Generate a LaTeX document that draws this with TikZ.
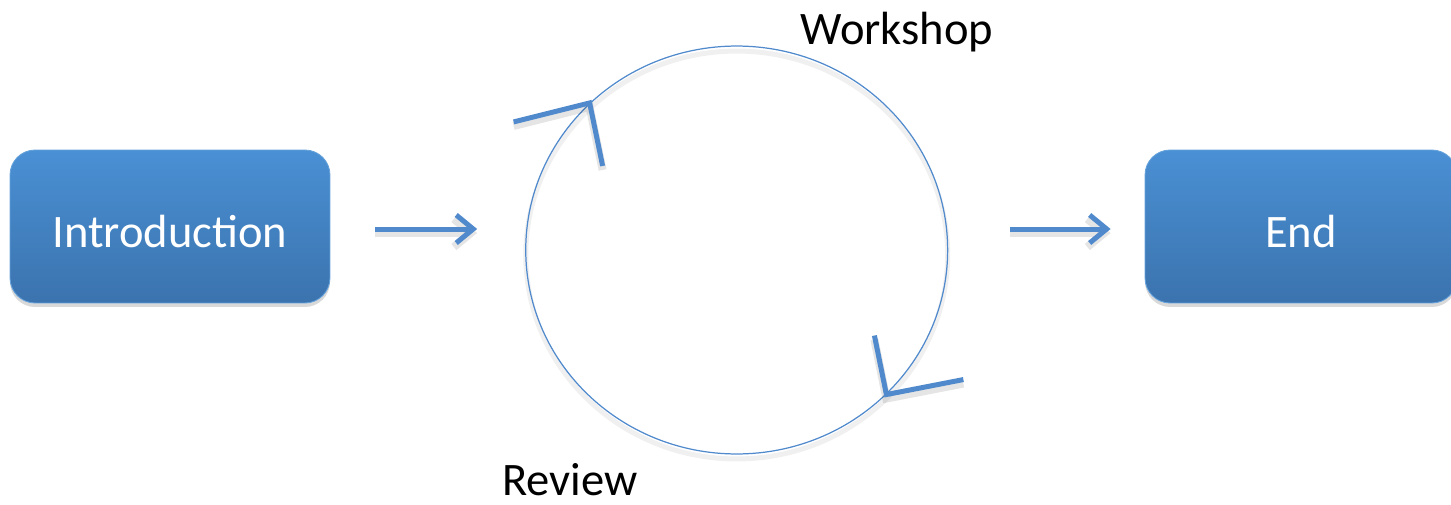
\documentclass[tikz,border=0pt]{standalone}
\usepackage{fontspec}
\setmainfont{Carlito}
\usetikzlibrary{shapes.geometric, arrows.meta, calc, shadows}
\definecolor{boxtop}{RGB}{74,144,212}
\definecolor{boxbottom}{RGB}{59,115,174}
\definecolor{cycleline}{RGB}{80,138,204}
\tikzstyle{softshadow} = [preaction={draw, black, opacity=0.10, line width=0.16cm, transform canvas={yshift=-0.08cm}}]
\tikzstyle{stage} = [rectangle, rounded corners=0.5cm, minimum height=3.06cm, text height=0.82cm, text depth=0cm, text=white, top color=boxtop, bottom color=boxbottom, draw=boxtop!85!white, line width=0.5pt, drop shadow={shadow xshift=0cm, shadow yshift=-0.08cm, opacity=0.25, fill=black!60}, font=\fontsize{26.5}{32}\selectfont]
\tikzstyle{arrow} = [softshadow, line width=0.1cm, cycleline, -{Straight Barb[length=0.34cm, width=0.56cm]}]
\tikzstyle{tick} = [softshadow, line width=0.1cm, cycleline]
\tikzstyle{phase} = [inner sep=0, anchor=base, font=\fontsize{26.5}{32}\selectfont]

\begin{document}
\begin{tikzpicture}[x=0.02cm, y=-0.02cm]
        \useasboundingbox (0,0) rectangle (1451,504);
        \node (intro) [stage, minimum width=6.4cm] at (170,226.5) {Introduction};
        \node (cycle) [ellipse, draw=cycleline, line width=0.7pt, minimum width=8.44cm, minimum height=8.16cm, inner sep=0,
            preaction={draw, black, opacity=0.06, line width=0.1cm, transform canvas={yshift=-0.1cm}}] at (736.7,250) {};
        \node (end) [stage, minimum width=6.24cm] at (1301,226.5) {End};
        \node (workshop) [phase] at (897,44) {Workshop};
        \node (review) [phase] at (570,495) {Review};

        % into and out of the loop
        \draw [arrow, shorten <=0.9cm, shorten >=0.96cm] ($(intro.east)+(0,2.5)$) -- ($(intro.east -| cycle.west)+(0,2.5)$);
        \draw [arrow, shorten <=1.24cm, shorten >=0.68cm] ($(end.west -| cycle.east)+(0,2.5)$) -- ($(end.west)+(0,2.5)$);

        % direction marks on the loop
        \coordinate (upper_tip) at (cycle.135);
        \coordinate (lower_tip) at (cycle.-44);
        \draw [tick] ($(upper_tip)+(-76,19)$) -- (upper_tip) -- ($(upper_tip)+(13,63)$);
        \draw [tick] ($(lower_tip)+(-12,-59)$) -- (lower_tip) -- ($(lower_tip)+(77,-15)$);
    \end{tikzpicture}
\end{document}
